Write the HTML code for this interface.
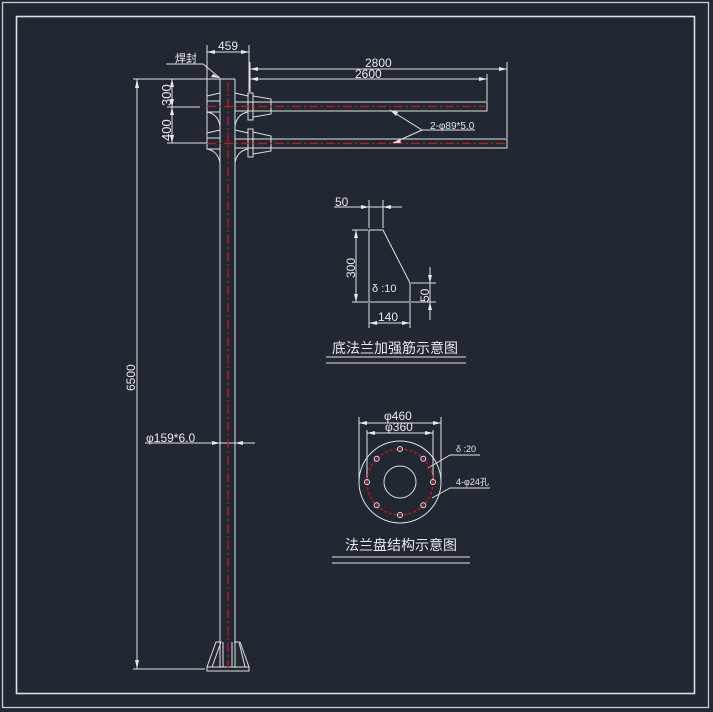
<!DOCTYPE html>
<html><head><meta charset="utf-8"><style>
html,body{margin:0;padding:0;background:#222831;}
svg{display:block;}
text{font-family:"Liberation Sans","Noto Sans CJK SC",sans-serif;fill:#e8e8e8;}
</style></head><body>
<svg width="713" height="712" viewBox="0 0 713 712" xmlns="http://www.w3.org/2000/svg">
<rect width="713" height="712" fill="#222831"/>
<g fill="none" stroke="#c8ccd0" stroke-width="1.3">
<rect x="2.5" y="2.5" width="706" height="705"/>
<rect x="16.5" y="16.5" width="678" height="677" stroke-width="1.6" stroke="#dde0e3"/>
</g>
<g fill="none" stroke="#e0e0e0" stroke-width="1">
<line x1="220" y1="79" x2="220" y2="668"/>
<line x1="235" y1="79" x2="235" y2="668"/>
<line x1="220" y1="79" x2="235" y2="79"/>
<rect x="207" y="667" width="42" height="4"/>
<polyline points="216,642 207,667"/><polyline points="216,642 221,642 212,667"/>
<polyline points="240,642 249,667"/><polyline points="234,642 239,642 245,667"/>
<line x1="223" y1="642" x2="223" y2="667"/><line x1="232" y1="642" x2="232" y2="667"/>
<rect x="235" y="102" width="252" height="9"/>
<rect x="235" y="139" width="272" height="9"/>
<rect x="207" y="101" width="13" height="11"/>
<rect x="207" y="138" width="13" height="11"/>
<path d="M207,79 V101 M207,96 L220,93 M207,112 Q218,114 220,126 M207,133 L220,130 M207,149 Q218,151 220,163 M207,112 V149"/>
<path d="M235,93 L248,96 M235,126 Q237,114 248,112 M235,130 L248,133 M235,163 Q237,151 248,149"/>
<rect x="248" y="93" width="5" height="27"/>
<rect x="248" y="129" width="5" height="28"/>
<path d="M253,96 L271,99 V114 L253,117 M253,132 L271,136 V151 L253,154"/>
<line x1="207" y1="45" x2="207" y2="100"/><line x1="249" y1="45" x2="249" y2="92"/>
<line x1="207" y1="52" x2="249" y2="52"/>
<line x1="250" y1="62" x2="250" y2="92"/>
<line x1="507" y1="62" x2="507" y2="138"/><line x1="487" y1="74" x2="487" y2="101"/>
<line x1="250" y1="69" x2="507" y2="69"/>
<line x1="250" y1="79" x2="487" y2="79"/>
<line x1="133" y1="79" x2="220" y2="79"/>
<line x1="133" y1="669" x2="205" y2="669"/>
<line x1="137" y1="79" x2="137" y2="669"/>
<line x1="167" y1="107" x2="200" y2="107"/>
<line x1="167" y1="143" x2="207" y2="143"/>
<line x1="172" y1="79" x2="172" y2="143"/>
<polyline points="166,64 203,64 220,78"/>
<polyline points="390,110 422,130 475,130"/><line x1="422" y1="130" x2="393" y2="143"/>
<line x1="145" y1="443" x2="255" y2="443"/>
<polyline points="369,230 383,230 410,283 410,302 369,302 369,230"/>
<line x1="369" y1="200" x2="369" y2="228"/><line x1="383" y1="200" x2="383" y2="228"/>
<line x1="334" y1="207" x2="402" y2="207"/>
<line x1="352" y1="230" x2="368" y2="230"/><line x1="352" y1="302" x2="368" y2="302"/>
<line x1="356" y1="230" x2="356" y2="302"/>
<line x1="411" y1="283" x2="436" y2="283"/><line x1="411" y1="302" x2="436" y2="302"/>
<line x1="430" y1="267" x2="430" y2="320"/>
<line x1="369" y1="303" x2="369" y2="328"/><line x1="410" y1="303" x2="410" y2="328"/>
<line x1="369" y1="323" x2="410" y2="323"/>
<line x1="326" y1="357" x2="466" y2="357"/><line x1="326" y1="363" x2="466" y2="363"/>
<circle cx="400" cy="482" r="41"/>
<circle cx="400" cy="482" r="16"/>
<line x1="359" y1="417" x2="359" y2="482"/><line x1="441" y1="417" x2="441" y2="482"/>
<line x1="367" y1="430" x2="367" y2="482"/><line x1="433" y1="430" x2="433" y2="482"/>
<line x1="359" y1="423" x2="441" y2="423"/><line x1="367" y1="433" x2="433" y2="433"/>
<polyline points="428,468 450,455 480,455"/>
<polyline points="432,498 450,488 490,488"/>
<line x1="332" y1="557" x2="470" y2="557"/><line x1="332" y1="563" x2="470" y2="563"/>
</g>
<g fill="#e8e8e8">
<polygon points="250,69 258,67 258,71"/><polygon points="507,69 499,67 499,71"/>
<polygon points="250,79 258,77 258,81"/><polygon points="487,79 479,77 479,81"/>
<polygon points="207,52 215,50 215,54"/><polygon points="249,52 241,50 241,54"/>
<polygon points="137,79 135,88 139,88"/><polygon points="137,669 135,660 139,660"/>
<polygon points="172,79 170,87 174,87"/><polygon points="172,107 170,99 174,99"/>
<polygon points="172,107 170,115 174,115"/><polygon points="172,143 170,135 174,135"/>
<polygon points="220,443 212,441 212,445"/><polygon points="235,443 243,441 243,445"/>
<polygon points="369,207 361,205 361,209"/><polygon points="383,207 391,205 391,209"/>
<polygon points="356,230 354,238 358,238"/><polygon points="356,302 354,294 358,294"/>
<polygon points="430,283 428,275 432,275"/><polygon points="430,302 428,310 432,310"/>
<polygon points="369,323 377,321 377,325"/><polygon points="410,323 402,321 402,325"/>
<polygon points="359,423 367,421 367,425"/><polygon points="441,423 433,421 433,425"/>
<polygon points="367,433 375,431 375,435"/><polygon points="433,433 425,431 425,435"/>
<polygon points="390,110 398,112 396,116"/><polygon points="393,143 400,139 401,143"/>
<polygon points="220,78 213,74 211,77"/>
</g>
<g stroke="#c8161d" stroke-width="1.3" stroke-dasharray="9,3,2,3" fill="none">
<line x1="228" y1="82" x2="228" y2="668"/>
<line x1="207" y1="106.5" x2="485" y2="106.5"/>
<line x1="207" y1="143.5" x2="505" y2="143.5"/>
<circle cx="400" cy="482" r="33" stroke-dasharray="3,2"/>
</g>
<g fill="none" stroke="#e0e0e0" stroke-width="1">
<circle cx="400" cy="449" r="2.5"/><circle cx="400" cy="515" r="2.5"/>
<circle cx="367" cy="482" r="2.5"/><circle cx="433" cy="482" r="2.5"/>
<circle cx="376.7" cy="458.7" r="2.5"/><circle cx="423.3" cy="458.7" r="2.5"/>
<circle cx="376.7" cy="505.3" r="2.5"/><circle cx="423.3" cy="505.3" r="2.5"/>
</g>
<g fill="#c8161d"><circle cx="400" cy="449" r="1"/><circle cx="400" cy="515" r="1"/><circle cx="367" cy="482" r="1"/><circle cx="433" cy="482" r="1"/><circle cx="376.7" cy="458.7" r="1"/><circle cx="423.3" cy="458.7" r="1"/><circle cx="376.7" cy="505.3" r="1"/><circle cx="423.3" cy="505.3" r="1"/></g>
<text x="218" y="50" font-size="12">459</text>
<text x="175" y="62" font-size="11">焊封</text>
<text x="365" y="67" font-size="12">2800</text>
<text x="355" y="78" font-size="12">2600</text>
<text font-size="13" transform="translate(171,106) rotate(-90)">300</text>
<text font-size="13" transform="translate(171,141) rotate(-90)">400</text>
<text font-size="12" transform="translate(135,391) rotate(-90)">6500</text>
<text x="430" y="129" font-size="10">2-φ89*5.0</text>
<text x="146" y="442" font-size="12">φ159*6.0</text>
<text x="335" y="206" font-size="12">50</text>
<text font-size="12" transform="translate(355,278) rotate(-90)">300</text>
<text x="372" y="292" font-size="11">δ :10</text>
<text font-size="12" transform="translate(429,302) rotate(-90)">50</text>
<text x="378" y="321" font-size="12">140</text>
<text x="332" y="353" font-size="14">底法兰加强筋示意图</text>
<text x="384" y="420" font-size="12">φ460</text>
<text x="385" y="431" font-size="12">φ360</text>
<text x="456" y="452" font-size="9">δ :20</text>
<text x="456" y="485" font-size="9">4-φ24孔</text>
<text x="345" y="550" font-size="14">法兰盘结构示意图</text>
</svg>
</body></html>
